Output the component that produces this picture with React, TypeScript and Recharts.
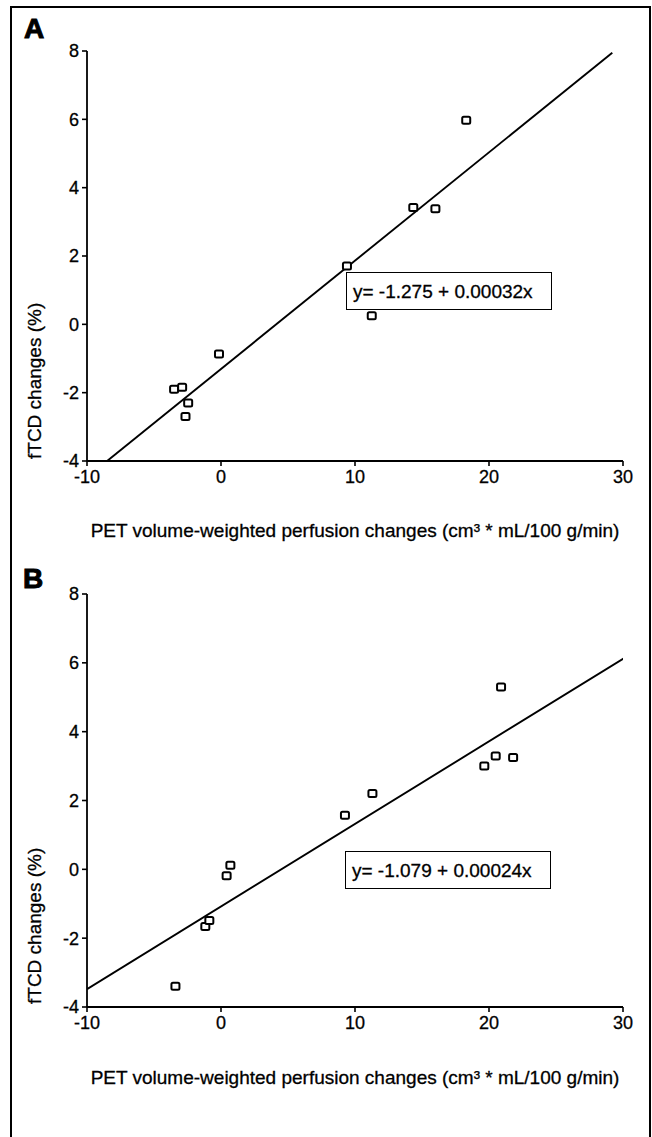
import React from 'react';
import { ScatterChart, Scatter, XAxis, YAxis } from 'recharts';

// Panel A data
const aX = [-3.5, -2.9, -2.45, -2.65, -0.15, 9.4, 11.25, 14.35, 16.0, 18.3];
const aY = [-1.9, -1.84, -2.3, -2.7, -0.87, 1.71, 0.25, 3.42, 3.38, 5.97];
const aLineX = [-8.5, 29.2];
const aLineY = [-4.0, 7.95];
const aEquation = 'y= -1.275 + 0.00032x';

// Panel B data
const bX = [-3.4, -1.17, -0.87, 0.42, 0.7, 9.25, 11.3, 19.65, 20.5, 21.8, 20.9];
const bY = [-3.4, -1.66, -1.49, -0.19, 0.12, 1.57, 2.2, 3.0, 3.29, 3.25, 5.3];
const bLineX = [-10, 30.1];
const bLineY = [-3.48, 6.14];
const bEquation = 'y= -1.079 + 0.00024x';

const xTicks = [-10, 0, 10, 20, 30];
const yTicks = [-4, -2, 0, 2, 4, 6, 8];
const xTitle = 'PET volume-weighted perfusion changes (cm\u00B3 * mL/100 g/min)';
const yTitle = 'fTCD changes (%)';

const FONT = '"Liberation Sans", Arial, Helvetica, sans-serif';

const zip = (xs: number[], ys: number[]) => xs.map((x, i) => ({ x, y: ys[i] }));

const Square = (props: any) => {
  const { cx, cy } = props;
  if (cx == null || cy == null) return <g />;
  return (
    <rect x={cx - 4} y={cy - 3.5} width={8} height={7} rx={1.5} fill="#fff" stroke="#000" strokeWidth={2} />
  );
};

const NoShape = () => <g />;

type PanelProps = {
  top: number;
  marginTop: number;
  plotH: number;
  pts: { x: number; y: number }[];
  line: { x: number; y: number }[];
};

const tickStyle = { fill: '#000', fontSize: 18, fontFamily: FONT, stroke: '#000', strokeWidth: 0.3 };

const Panel = ({ top, marginTop, plotH, pts, line }: PanelProps) => {
  const xAxisH = 30;
  const marginBottom = 10;
  const height = marginTop + plotH + xAxisH + marginBottom;
  return (
    <div style={{ position: 'absolute', left: 0, top }}>
      <ScatterChart
        width={652}
        height={height}
        margin={{ top: marginTop, right: 29, bottom: marginBottom, left: 47 }}
      >
        <XAxis
          type="number"
          dataKey="x"
          domain={[-10, 30]}
          ticks={xTicks}
          height={xAxisH}
          axisLine={{ stroke: '#000', strokeWidth: 1.8 }}
          tickLine={{ stroke: '#000', strokeWidth: 1.6 }}
          tickSize={5}
          tickMargin={4}
          tick={tickStyle}
          allowDataOverflow
        />
        <YAxis
          type="number"
          dataKey="y"
          domain={[-4, 8]}
          ticks={yTicks}
          width={40}
          axisLine={{ stroke: '#000', strokeWidth: 1.8 }}
          tickLine={{ stroke: '#000', strokeWidth: 1.6 }}
          tickSize={5}
          tickMargin={3}
          tick={tickStyle}
          allowDataOverflow
        />
        <Scatter
          data={line}
          line={{ stroke: '#000', strokeWidth: 1.9 }}
          shape={NoShape}
          isAnimationActive={false}
          legendType="none"
        />
        <Scatter data={pts} shape={Square} isAnimationActive={false} legendType="none" />
      </ScatterChart>
    </div>
  );
};

const EqBox = ({ left, top, text }: { left: number; top: number; text: string }) => (
  <div
    style={{
      position: 'absolute',
      left,
      top,
      width: 198,
      height: 36,
      border: '1.8px solid #000',
      background: '#fff',
      fontFamily: FONT,
      fontSize: 19,
      lineHeight: '37px',
      paddingLeft: 6,
      boxSizing: 'content-box',
      color: '#000',
      whiteSpace: 'nowrap',
      WebkitTextStroke: '0.3px #000',
    }}
  >
    {text}
  </div>
);

const titleProps = { fontFamily: FONT, fontSize: 19, fill: '#000', stroke: '#000', strokeWidth: 0.3 };

export default function App() {
  return (
    <div style={{ position: 'absolute', left: 0, top: 0, width: 652, height: 1137, background: '#fff', overflow: 'hidden' }}>
      {/* outer frame */}
      <div
        style={{
          position: 'absolute',
          left: 10,
          top: 6,
          width: 637,
          height: 1150,
          borderTop: '2.5px solid #000',
          borderLeft: '2px solid #000',
          borderRight: '2px solid #000',
        }}
      />
      <Panel top={0} marginTop={51} plotH={410} pts={zip(aX, aY)} line={zip(aLineX, aLineY)} />
      <Panel top={544} marginTop={50} plotH={413} pts={zip(bX, bY)} line={zip(bLineX, bLineY)} />
      <EqBox left={346} top={272} text={aEquation} />
      <EqBox left={345} top={851} text={bEquation} />
      <svg width={652} height={1137} style={{ position: 'absolute', left: 0, top: 0, pointerEvents: 'none' }}>
        <text x={24} y={38} fontFamily={FONT} fontWeight="bold" fontSize={28} fill="#000" stroke="#000" strokeWidth={1}>A</text>
        <text x={23} y={588} fontFamily={FONT} fontWeight="bold" fontSize={28} fill="#000" stroke="#000" strokeWidth={1}>B</text>
        <text x={355} y={537} textAnchor="middle" {...titleProps}>{xTitle}</text>
        <text x={355} y={1084} textAnchor="middle" {...titleProps}>{xTitle}</text>
        <text x={41} y={459} transform="rotate(-90 41 459)" textAnchor="start" {...titleProps}>{yTitle}</text>
        <text x={41} y={1004} transform="rotate(-90 41 1004)" textAnchor="start" {...titleProps}>{yTitle}</text>
      </svg>
    </div>
  );
}
